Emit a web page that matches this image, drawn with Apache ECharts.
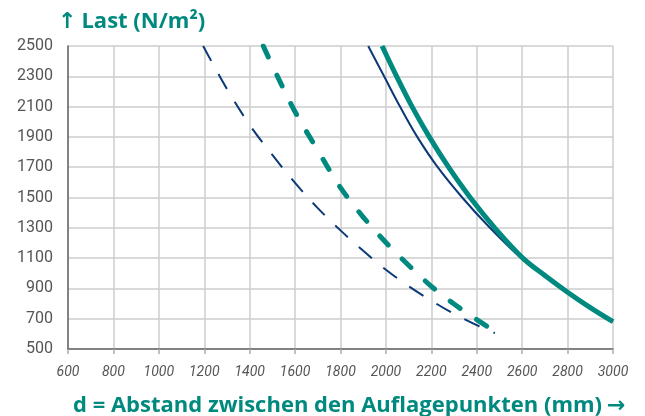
<!DOCTYPE html>
<html>
<head>
<meta charset="utf-8">
<script src="https://cdn.jsdelivr.net/npm/echarts@6/dist/echarts.min.js"></script>
<style>
  html, body { margin: 0; padding: 0; background: #fff; }
  #chart { width: 645px; height: 416px; }
</style>
</head>
<body>
<div id="chart"></div>
<script>
// Load curves: span d (mm) against permissible load (N/m²)
const yTicks = [500, 700, 900, 1100, 1300, 1500, 1700, 1900, 2100, 2300, 2500];

// dashed navy curve
const navyDashD = [1195, 1300, 1400, 1500, 1600, 1700, 1800, 1900, 2000, 2100, 2200, 2300, 2400, 2480];
const navyDashL = [2500, 2216, 1979, 1781, 1596, 1430, 1283, 1148, 1023, 915, 819, 732, 657, 605];

// dashed teal curve
const tealDashD = [1460, 1500, 1600, 1700, 1800, 1900, 2000, 2100, 2200, 2300, 2400, 2495];
const tealDashL = [2500, 2370, 2066, 1811, 1565, 1371, 1203, 1053, 914, 797, 694, 603];

// solid navy curve
const navySolidD = [1922, 1992, 2062, 2138, 2228, 2336, 2458, 2596, 2700, 2800, 2900, 3000];
const navySolidL = [2500, 2300, 2100, 1900, 1700, 1500, 1300, 1100, 985, 875, 773, 680];

// solid teal curve
const tealSolidD = [1983, 2047, 2115, 2191, 2276, 2371, 2479, 2603, 2700, 2800, 2900, 3000];
const tealSolidL = [2500, 2300, 2100, 1900, 1700, 1500, 1300, 1100, 985, 875, 773, 680];

const TEAL = '#00897e';
const NAVY = '#0b3877';

const pairs = (xs, ys) => xs.map((x, i) => [x, ys[i]]);

const titleRich = {
  t: { color: TEAL, fontFamily: 'Open Sans', fontWeight: 'bold', fontSize: 22 },
  a: { color: TEAL, fontFamily: 'DejaVu Sans', fontWeight: 'bold', fontSize: 22 }
};

const chart = echarts.init(document.getElementById('chart'), null, { renderer: 'canvas' });

chart.setOption({
  animation: false,
  backgroundColor: '#ffffff',
  title: [
    {
      text: '{a|↑} {t|Last (N/m²)}',
      left: 53, top: 6,
      textStyle: { rich: titleRich }
    },
    {
      text: '{t|d = Abstand zwischen den Auflagepunkten (mm)} {a|→}',
      left: 68, top: 390,
      textStyle: { rich: titleRich }
    }
  ],
  grid: { left: 68, right: 32, top: 46, bottom: 67, containLabel: false },
  xAxis: {
    type: 'value',
    min: 600, max: 3000, interval: 200,
    axisLine: { show: true, onZero: false, lineStyle: { color: '#666', width: 1.5 } },
    axisTick: { show: true, length: 5, lineStyle: { color: '#aaa', width: 1.5 } },
    axisLabel: {
      color: '#555', fontFamily: 'Roboto', fontStyle: 'italic', fontSize: 14, margin: 16,
      formatter: v => String(v)
    },
    splitLine: { show: true, lineStyle: { color: '#cccccc', width: 1.5 } }
  },
  yAxis: {
    type: 'value',
    min: 500, max: 2500,
    axisLine: { show: true, onZero: false, lineStyle: { color: '#666', width: 1.5 } },
    axisTick: { show: false, customValues: yTicks },
    axisLabel: {
      color: '#555', fontFamily: 'Roboto', fontSize: 16, margin: 15, customValues: yTicks,
      formatter: v => String(v)
    },
    splitLine: { show: true, lineStyle: { color: '#cccccc', width: 1.5 } }
  },
  series: [
    {
      type: 'line', data: pairs(navyDashD, navyDashL), smooth: 0.35, symbol: 'none',
      lineStyle: { color: NAVY, width: 2, type: [17, 15] }
    },
    {
      type: 'line', data: pairs(navySolidD, navySolidL), smooth: 0.35, symbol: 'none',
      lineStyle: { color: NAVY, width: 2 }
    },
    {
      type: 'line', data: pairs(tealDashD, tealDashL), smooth: 0.35, symbol: 'none',
      lineStyle: { color: TEAL, width: 5, type: [12, 20], cap: 'round' }
    },
    {
      type: 'line', data: pairs(tealSolidD, tealSolidL), smooth: 0.35, symbol: 'none',
      lineStyle: { color: TEAL, width: 5 }
    }
  ]
});
</script>
</body>
</html>
